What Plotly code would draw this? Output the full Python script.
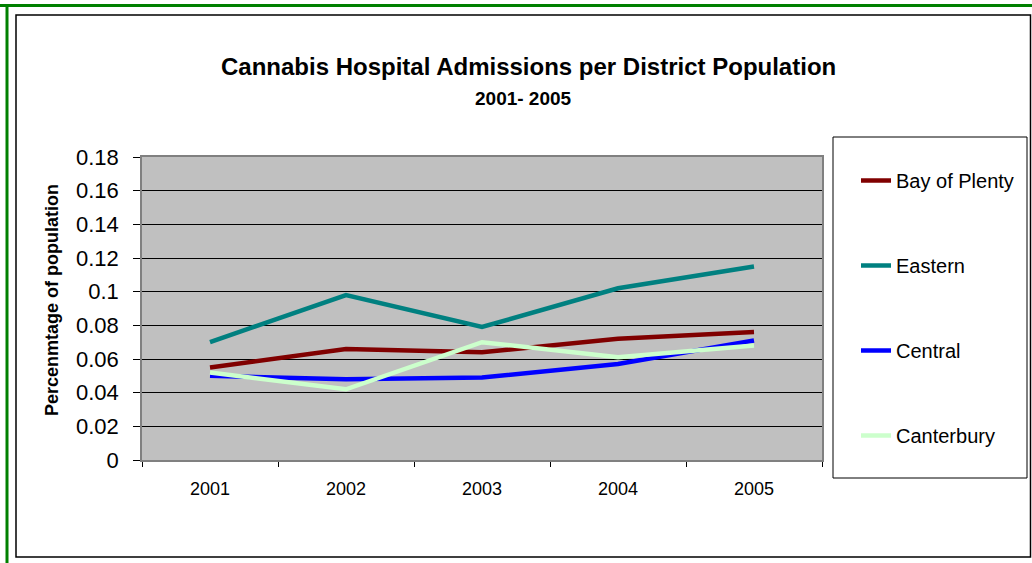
import plotly.graph_objects as go

# Admissions as a percentage of each district's population
years = ["2001", "2002", "2003", "2004", "2005"]
bay_of_plenty = [0.055, 0.066, 0.064, 0.072, 0.076]
eastern = [0.070, 0.098, 0.079, 0.102, 0.115]
central = [0.050, 0.048, 0.049, 0.057, 0.071]
canterbury = [0.052, 0.042, 0.070, 0.061, 0.068]

series = [
    ("Bay of Plenty", bay_of_plenty, "#800000"),
    ("Eastern", eastern, "#008080"),
    ("Central", central, "#0000FF"),
    ("Canterbury", canterbury, "#CCFFCC"),
]

W, H = 1032, 563
L, R, T, B = 142, 822, 157, 460  # plot area in pixels


def px_x(p):
    return (p - L) / (R - L)


def px_y(p):
    return (B - p) / (B - T)


fig = go.Figure()
for i, (name, vals, col) in enumerate(series):
    fig.add_trace(go.Scatter(
        x=years, y=vals, name=name, mode="lines",
        line=dict(color=col, width=4.5),
        legendgroup=f"g{i}",
    ))

FONT = "Liberation Sans, Arial, sans-serif"

shapes = [
    # outer green border (top and left edges)
    dict(type="line", xref="paper", yref="paper",
         x0=px_x(0), x1=px_x(W), y0=px_y(5.5), y1=px_y(5.5),
         line=dict(color="#008000", width=3)),
    dict(type="line", xref="paper", yref="paper",
         x0=px_x(7), x1=px_x(7), y0=px_y(4), y1=px_y(H),
         line=dict(color="#008000", width=3)),
    # chart frame
    dict(type="rect", xref="paper", yref="paper",
         x0=px_x(16), x1=px_x(1030.5), y0=px_y(15), y1=px_y(557),
         line=dict(color="#000000", width=1.5)),
    # legend box
    dict(type="rect", xref="paper", yref="paper",
         x0=px_x(833), x1=px_x(1027), y0=px_y(137), y1=px_y(478),
         line=dict(color="#000000", width=1), fillcolor="white", layer="below"),
]

annotations = [
    dict(text="<b>Cannabis Hospital Admissions per District Population</b>",
         xref="paper", yref="paper", x=px_x(528), y=px_y(67),
         xanchor="center", yanchor="middle", showarrow=False,
         font=dict(family=FONT, size=24, color="black")),
    dict(text="<b>2001- 2005</b>",
         xref="paper", yref="paper", x=px_x(523), y=px_y(99),
         xanchor="center", yanchor="middle", showarrow=False,
         font=dict(family=FONT, size=19, color="black")),
    dict(text="<b>Percenmtage of population</b>",
         xref="paper", yref="paper", x=px_x(52), y=px_y(300),
         xanchor="center", yanchor="middle", showarrow=False, textangle=-90,
         font=dict(family=FONT, size=18, color="black")),
]

fig.update_layout(
    width=W, height=H,
    margin=dict(l=L, r=W - R, t=T, b=H - B, pad=0),
    paper_bgcolor="white",
    plot_bgcolor="#C0C0C0",
    font=dict(family=FONT, color="black"),
    shapes=shapes,
    annotations=annotations,
    showlegend=True,
    legend=dict(
        x=px_x(856), y=px_y(161), xanchor="left", yanchor="top",
        bgcolor="rgba(0,0,0,0)", borderwidth=0,
        font=dict(family=FONT, size=20, color="black"),
        traceorder="grouped", tracegroupgap=56,
        itemclick=False, itemdoubleclick=False,
        maxheight=1.0,
    ),
    xaxis=dict(
        type="category", range=[-0.5, 4.5],
        showgrid=False, zeroline=False,
        showline=True, linecolor="#808080", linewidth=1.5, mirror=True,
        ticks="outside", tickson="boundaries", ticklen=5, tickcolor="black",
        tickfont=dict(family=FONT, size=18, color="black"),
        ticklabelstandoff=12,
    ),
    yaxis=dict(
        range=[0, 0.18], dtick=0.02, tick0=0,
        showgrid=True, gridcolor="black", gridwidth=1,
        zeroline=False,
        showline=True, linecolor="#808080", linewidth=1.5, mirror=True,
        ticks="outside", ticklen=7, tickcolor="black",
        tickfont=dict(family=FONT, size=22, color="black"),
        ticklabelstandoff=10,
        tickformat="~g",
    ),
)

fig.write_html("out.html")
